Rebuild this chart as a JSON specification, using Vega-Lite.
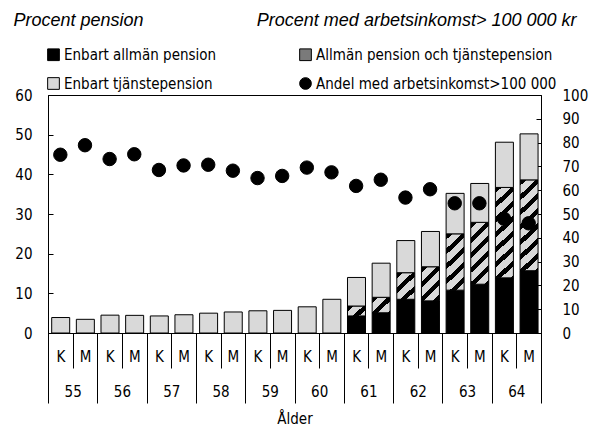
{
  "$schema": "https://vega.github.io/schema/vega-lite/v6.json",
  "width": 493,
  "height": 238,
  "autosize": {"type": "none"},
  "padding": {"left": 48, "top": 95, "right": 54, "bottom": 94},
  "background": "white",
  "config": {
    "font": "DejaVu Sans Condensed, sans-serif",
    "view": {"stroke": "black", "strokeWidth": 1},
    "axis": {"grid": false, "domainColor": "black", "tickColor": "black", "labelColor": "black", "titleColor": "black", "labelFontSize": 15, "titleFontSize": 15, "titleFontWeight": "normal", "labelFont": "DejaVu Sans Condensed, sans-serif", "titleFont": "DejaVu Sans Condensed, sans-serif"},
    "legend": {"labelColor": "black", "labelFontSize": 15, "labelFont": "DejaVu Sans Condensed, sans-serif", "symbolStrokeWidth": 1, "title": null, "orient": "none", "legendX": -2, "legendY": -48, "columns": 2, "columnPadding": 80, "rowPadding": 12, "symbolSize": 137, "labelOffset": 3, "padding": 0, "labelLimit": 400}
  },
  "datasets": {
    "pension": [
      {"key": "55K", "cat": "Enbart tjänstepension", "o": 3, "v": 3.9},
      {"key": "55M", "cat": "Enbart tjänstepension", "o": 3, "v": 3.45},
      {"key": "56K", "cat": "Enbart tjänstepension", "o": 3, "v": 4.5},
      {"key": "56M", "cat": "Enbart tjänstepension", "o": 3, "v": 4.45},
      {"key": "57K", "cat": "Enbart tjänstepension", "o": 3, "v": 4.3},
      {"key": "57M", "cat": "Enbart tjänstepension", "o": 3, "v": 4.6},
      {"key": "58K", "cat": "Enbart tjänstepension", "o": 3, "v": 5.0},
      {"key": "58M", "cat": "Enbart tjänstepension", "o": 3, "v": 5.3},
      {"key": "59K", "cat": "Enbart tjänstepension", "o": 3, "v": 5.6},
      {"key": "59M", "cat": "Enbart tjänstepension", "o": 3, "v": 5.7},
      {"key": "60K", "cat": "Enbart tjänstepension", "o": 3, "v": 6.6},
      {"key": "60M", "cat": "Enbart tjänstepension", "o": 3, "v": 8.5},
      {"key": "61K", "cat": "Enbart allmän pension", "o": 1, "v": 4.3},
      {"key": "61K", "cat": "Allmän pension och tjänstepension", "o": 2, "v": 2.5},
      {"key": "61K", "cat": "Enbart tjänstepension", "o": 3, "v": 7.2},
      {"key": "61M", "cat": "Enbart allmän pension", "o": 1, "v": 5.1},
      {"key": "61M", "cat": "Allmän pension och tjänstepension", "o": 2, "v": 3.9},
      {"key": "61M", "cat": "Enbart tjänstepension", "o": 3, "v": 8.6},
      {"key": "62K", "cat": "Enbart allmän pension", "o": 1, "v": 8.5},
      {"key": "62K", "cat": "Allmän pension och tjänstepension", "o": 2, "v": 6.7},
      {"key": "62K", "cat": "Enbart tjänstepension", "o": 3, "v": 8.1},
      {"key": "62M", "cat": "Enbart allmän pension", "o": 1, "v": 8.1},
      {"key": "62M", "cat": "Allmän pension och tjänstepension", "o": 2, "v": 8.6},
      {"key": "62M", "cat": "Enbart tjänstepension", "o": 3, "v": 8.9},
      {"key": "63K", "cat": "Enbart allmän pension", "o": 1, "v": 10.8},
      {"key": "63K", "cat": "Allmän pension och tjänstepension", "o": 2, "v": 14.2},
      {"key": "63K", "cat": "Enbart tjänstepension", "o": 3, "v": 10.2},
      {"key": "63M", "cat": "Enbart allmän pension", "o": 1, "v": 12.3},
      {"key": "63M", "cat": "Allmän pension och tjänstepension", "o": 2, "v": 15.6},
      {"key": "63M", "cat": "Enbart tjänstepension", "o": 3, "v": 9.8},
      {"key": "64K", "cat": "Enbart allmän pension", "o": 1, "v": 13.9},
      {"key": "64K", "cat": "Allmän pension och tjänstepension", "o": 2, "v": 22.8},
      {"key": "64K", "cat": "Enbart tjänstepension", "o": 3, "v": 11.4},
      {"key": "64M", "cat": "Enbart allmän pension", "o": 1, "v": 15.7},
      {"key": "64M", "cat": "Allmän pension och tjänstepension", "o": 2, "v": 22.9},
      {"key": "64M", "cat": "Enbart tjänstepension", "o": 3, "v": 11.6}
    ],
    "andel": [
      {"age": "55", "sex": "K", "cat": "Andel med arbetsinkomst>100 000", "andel": 74.9},
      {"age": "55", "sex": "M", "cat": "Andel med arbetsinkomst>100 000", "andel": 78.9},
      {"age": "56", "sex": "K", "cat": "Andel med arbetsinkomst>100 000", "andel": 73.1},
      {"age": "56", "sex": "M", "cat": "Andel med arbetsinkomst>100 000", "andel": 75.1},
      {"age": "57", "sex": "K", "cat": "Andel med arbetsinkomst>100 000", "andel": 68.5},
      {"age": "57", "sex": "M", "cat": "Andel med arbetsinkomst>100 000", "andel": 70.4},
      {"age": "58", "sex": "K", "cat": "Andel med arbetsinkomst>100 000", "andel": 70.7},
      {"age": "58", "sex": "M", "cat": "Andel med arbetsinkomst>100 000", "andel": 68.2},
      {"age": "59", "sex": "K", "cat": "Andel med arbetsinkomst>100 000", "andel": 65.1},
      {"age": "59", "sex": "M", "cat": "Andel med arbetsinkomst>100 000", "andel": 66.0},
      {"age": "60", "sex": "K", "cat": "Andel med arbetsinkomst>100 000", "andel": 69.5},
      {"age": "60", "sex": "M", "cat": "Andel med arbetsinkomst>100 000", "andel": 67.5},
      {"age": "61", "sex": "K", "cat": "Andel med arbetsinkomst>100 000", "andel": 61.8},
      {"age": "61", "sex": "M", "cat": "Andel med arbetsinkomst>100 000", "andel": 64.4},
      {"age": "62", "sex": "K", "cat": "Andel med arbetsinkomst>100 000", "andel": 56.9},
      {"age": "62", "sex": "M", "cat": "Andel med arbetsinkomst>100 000", "andel": 60.4},
      {"age": "63", "sex": "K", "cat": "Andel med arbetsinkomst>100 000", "andel": 54.5},
      {"age": "63", "sex": "M", "cat": "Andel med arbetsinkomst>100 000", "andel": 54.5},
      {"age": "64", "sex": "K", "cat": "Andel med arbetsinkomst>100 000", "andel": 48.0},
      {"age": "64", "sex": "M", "cat": "Andel med arbetsinkomst>100 000", "andel": 46.1}
    ]
  },
  "layer": [
    {
      "data": {"name": "pension"},
      "mark": {"type": "bar", "width": {"band": 0.7}, "strokeWidth": 1},
      "encoding": {
        "x": {"field": "key", "type": "nominal", "sort": null, "scale": {"padding": 0},
          "axis": {"orient": "bottom", "title": null, "labelExpr": "slice(datum.label, 2)", "labelAngle": 0, "tickBand": "extent", "tickSize": 35, "labelPadding": -19}},
        "y": {"field": "v", "type": "quantitative", "stack": "zero", "scale": {"domain": [0, 60]},
          "axis": {"orient": "left", "values": [0, 10, 20, 30, 40, 50, 60], "tickSize": -5, "labelPadding": 21,
            "title": "Procent pension", "titleAngle": 0, "titleAlign": "left", "titleBaseline": "alphabetic", "titleX": -35, "titleY": -70,
            "titleFont": "Liberation Sans", "titleFontStyle": "italic", "titleFontSize": 18}},
        "order": {"field": "o"},
        "fill": {
          "condition": {"test": "datum.cat === 'Allmän pension och tjänstepension'",
            "value": {"expr": "{gradient:'linear',x1:0,y1:0,x2:3100/(298+pow((datum.v_end-datum.v_start)*3.967,2)),y2:179.6*(datum.v_end-datum.v_start)*3.967/(298+pow((datum.v_end-datum.v_start)*3.967,2)),stops:[{offset:0,color:'#000'},{offset:0.0333,color:'#000'},{offset:0.0333,color:'#d9d9d9'},{offset:0.0833,color:'#d9d9d9'},{offset:0.0833,color:'#000'},{offset:0.1167,color:'#000'},{offset:0.1167,color:'#d9d9d9'},{offset:0.1667,color:'#d9d9d9'},{offset:0.1667,color:'#000'},{offset:0.2,color:'#000'},{offset:0.2,color:'#d9d9d9'},{offset:0.25,color:'#d9d9d9'},{offset:0.25,color:'#000'},{offset:0.2833,color:'#000'},{offset:0.2833,color:'#d9d9d9'},{offset:0.3333,color:'#d9d9d9'},{offset:0.3333,color:'#000'},{offset:0.3667,color:'#000'},{offset:0.3667,color:'#d9d9d9'},{offset:0.4167,color:'#d9d9d9'},{offset:0.4167,color:'#000'},{offset:0.45,color:'#000'},{offset:0.45,color:'#d9d9d9'},{offset:0.5,color:'#d9d9d9'},{offset:0.5,color:'#000'},{offset:0.5333,color:'#000'},{offset:0.5333,color:'#d9d9d9'},{offset:0.5833,color:'#d9d9d9'},{offset:0.5833,color:'#000'},{offset:0.6167,color:'#000'},{offset:0.6167,color:'#d9d9d9'},{offset:0.6667,color:'#d9d9d9'},{offset:0.6667,color:'#000'},{offset:0.7,color:'#000'},{offset:0.7,color:'#d9d9d9'},{offset:0.75,color:'#d9d9d9'},{offset:0.75,color:'#000'},{offset:0.7833,color:'#000'},{offset:0.7833,color:'#d9d9d9'},{offset:0.8333,color:'#d9d9d9'},{offset:0.8333,color:'#000'},{offset:0.8667,color:'#000'},{offset:0.8667,color:'#d9d9d9'},{offset:0.9167,color:'#d9d9d9'},{offset:0.9167,color:'#000'},{offset:0.95,color:'#000'},{offset:0.95,color:'#d9d9d9'},{offset:1,color:'#d9d9d9'}]}"}},
          "field": "cat", "type": "nominal",
          "scale": {
            "domain": ["Enbart allmän pension", "Enbart tjänstepension", "Allmän pension och tjänstepension", "Andel med arbetsinkomst>100 000"],
            "range": ["#000000", "#d9d9d9", "#7a7a7a", "#000000"]
          }
        },
        "stroke": {"field": "cat", "type": "nominal",
          "scale": {"domain": ["Enbart allmän pension", "Enbart tjänstepension", "Allmän pension och tjänstepension", "Andel med arbetsinkomst>100 000"], "range": ["#000000", "#000000", "#000000", "#000000"]}}
      }
    },
    {
      "data": {"name": "andel"},
      "mark": {"type": "point", "filled": true, "size": 180, "opacity": 1, "strokeWidth": 1},
      "encoding": {
        "x": {"field": "age", "type": "nominal", "scale": {"padding": 0},
          "axis": {"orient": "bottom", "title": "Ålder", "labelAngle": 0, "tickBand": "extent", "tickSize": 70, "labelPadding": -19, "titlePadding": 8}},
        "xOffset": {"field": "sex", "type": "nominal", "scale": {"type": "point", "padding": 0.5}},
        "y": {"field": "andel", "type": "quantitative", "scale": {"domain": [0, 100]},
          "axis": {"orient": "right", "values": [0, 10, 20, 30, 40, 50, 60, 70, 80, 90, 100], "tickSize": -5, "labelPadding": 26, "labelAlign": "left",
            "title": "Procent med arbetsinkomst> 100 000 kr", "titleAngle": 0, "titleAlign": "right", "titleBaseline": "alphabetic", "titleX": 35, "titleY": -70,
            "titleFont": "Liberation Sans", "titleFontStyle": "italic", "titleFontSize": 18}},
        "fill": {"field": "cat", "type": "nominal"},
        "stroke": {"field": "cat", "type": "nominal"},
        "shape": {"field": "cat", "type": "nominal",
          "scale": {"domain": ["Enbart allmän pension", "Enbart tjänstepension", "Allmän pension och tjänstepension", "Andel med arbetsinkomst>100 000"], "range": ["square", "square", "square", "circle"]}}
      }
    }
  ],
  "resolve": {"scale": {"x": "independent", "y": "independent"}}
}
